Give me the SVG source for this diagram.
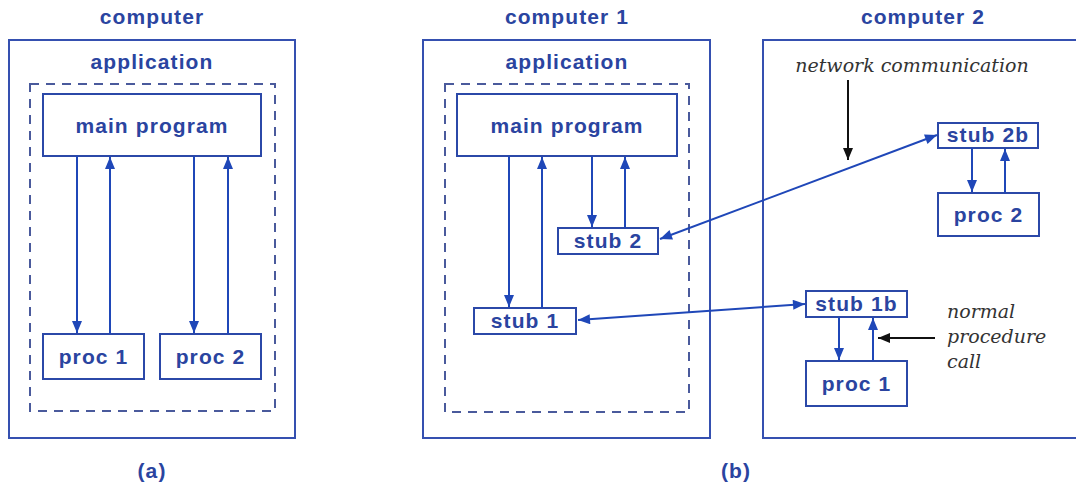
<svg xmlns="http://www.w3.org/2000/svg" width="1076" height="487" viewBox="0 0 1076 487">
<defs>
<style>
.frame{fill:none;stroke:#3550b0;stroke-width:2}
.dash{fill:none;stroke:#4a5a9c;stroke-width:2;stroke-dasharray:9,7}
.box{fill:#fff;stroke:#2b48a8;stroke-width:2}
.lbl{font-family:"Liberation Sans",Arial,sans-serif;font-weight:bold;font-size:21px;fill:#2a44a0;text-anchor:middle;letter-spacing:1.1px}
.note{font-family:"DejaVu Serif","Liberation Serif",serif;font-style:italic;font-size:19px;fill:#333}
.con{stroke:#1f47b8;stroke-width:2;fill:none}
.blk{stroke:#111;stroke-width:2;fill:none}
</style>
<marker id="ab" viewBox="0 0 12 10" refX="12" refY="5" markerWidth="13" markerHeight="10" orient="auto-start-reverse" markerUnits="userSpaceOnUse">
<path d="M0,0 L12,5 L0,10 z" fill="#1f47b8"/>
</marker>
<marker id="ak" viewBox="0 0 12 10" refX="12" refY="5" markerWidth="14" markerHeight="10" orient="auto-start-reverse" markerUnits="userSpaceOnUse">
<path d="M0,0 L12,5 L0,10 z" fill="#111"/>
</marker>
</defs>
<rect width="1076" height="487" fill="#fff"/>

<g id="panel-a">
<text class="lbl" x="152" y="24">computer</text>
<rect class="frame" x="9" y="40" width="286" height="398"/>
<text class="lbl" x="152" y="69">application</text>
<rect class="dash" x="30" y="84" width="245" height="327"/>
<text class="lbl" x="152" y="478">(a)</text>
</g>
<g id="a-main"><rect class="box" x="43" y="94" width="218" height="62"/><text class="lbl" x="152" y="133">main program</text></g>
<g id="a-proc1"><rect class="box" x="43" y="334" width="101" height="45"/><text class="lbl" x="93.5" y="364">proc 1</text></g>
<g id="a-proc2"><rect class="box" x="160" y="334" width="101" height="45"/><text class="lbl" x="210.5" y="364">proc 2</text></g>

<g id="panel-b1">
<text class="lbl" x="567" y="24">computer 1</text>
<rect class="frame" x="423" y="40" width="287" height="398"/>
<text class="lbl" x="567" y="69">application</text>
<rect class="dash" x="445" y="84" width="244" height="328"/>
</g>
<g id="b-main"><rect class="box" x="457" y="94" width="220" height="62"/><text class="lbl" x="567" y="133">main program</text></g>
<g id="b-stub2"><rect class="box" x="558" y="228" width="100" height="26"/><text class="lbl" x="608" y="248">stub 2</text></g>
<g id="b-stub1"><rect class="box" x="474" y="308" width="102" height="26"/><text class="lbl" x="525" y="328">stub 1</text></g>

<g id="panel-b2">
<text class="lbl" x="923" y="24">computer 2</text>
<rect class="frame" x="763" y="40" width="320" height="398"/>
<text class="note" x="912" y="72" text-anchor="middle">network communication</text>
<text class="note" x="947" y="318">normal</text>
<text class="note" x="947" y="343">procedure</text>
<text class="note" x="947" y="368">call</text>
<text class="lbl" x="736" y="478">(b)</text>
</g>
<g id="b-stub2b"><rect class="box" x="938" y="123" width="100" height="25"/><text class="lbl" x="988" y="142">stub 2b</text></g>
<g id="b-proc2"><rect class="box" x="938" y="193" width="101" height="43"/><text class="lbl" x="988.5" y="222">proc 2</text></g>
<g id="b-stub1b"><rect class="box" x="806" y="291" width="101" height="26"/><text class="lbl" x="856.5" y="311">stub 1b</text></g>
<g id="b-proc1"><rect class="box" x="806" y="361" width="101" height="45"/><text class="lbl" x="856.5" y="391">proc 1</text></g>

<g id="connectors">
<line class="con" x1="77" y1="156" x2="77" y2="333" marker-end="url(#ab)"/>
<line class="con" x1="110" y1="334" x2="110" y2="157" marker-end="url(#ab)"/>
<line class="con" x1="194" y1="156" x2="194" y2="333" marker-end="url(#ab)"/>
<line class="con" x1="228" y1="334" x2="228" y2="157" marker-end="url(#ab)"/>

<line class="con" x1="509" y1="156" x2="509" y2="307" marker-end="url(#ab)"/>
<line class="con" x1="542" y1="308" x2="542" y2="157" marker-end="url(#ab)"/>
<line class="con" x1="592" y1="156" x2="592" y2="227" marker-end="url(#ab)"/>
<line class="con" x1="625" y1="228" x2="625" y2="157" marker-end="url(#ab)"/>

<line class="con" x1="660" y1="239" x2="937" y2="135" marker-start="url(#ab)" marker-end="url(#ab)"/>
<line class="con" x1="578" y1="320" x2="805" y2="304" marker-start="url(#ab)" marker-end="url(#ab)"/>

<line class="con" x1="972" y1="148" x2="972" y2="192" marker-end="url(#ab)"/>
<line class="con" x1="1005" y1="193" x2="1005" y2="149" marker-end="url(#ab)"/>
<line class="con" x1="839" y1="317" x2="839" y2="360" marker-end="url(#ab)"/>
<line class="con" x1="873" y1="361" x2="873" y2="318" marker-end="url(#ab)"/>

<line class="blk" x1="848" y1="80" x2="848" y2="160" marker-end="url(#ak)"/>
<line class="blk" x1="935" y1="338" x2="878" y2="338" marker-end="url(#ak)"/>
</g>
</svg>
